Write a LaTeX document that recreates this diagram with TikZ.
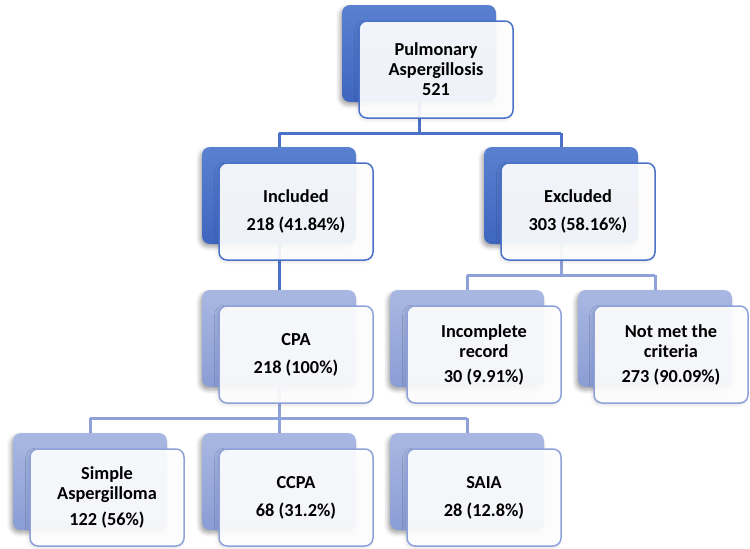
\documentclass[tikz,border=0pt]{standalone}
\usepackage{fontspec}
\setmainfont{Carlito}
\usetikzlibrary{shadows.blur}
\definecolor{dkTop}{HTML}{5A80D0}
\definecolor{dkBot}{HTML}{3F66C0}
\definecolor{ltTop}{HTML}{A9B8E2}
\definecolor{ltBot}{HTML}{8A9DD5}
\definecolor{dkLine}{HTML}{4A72C8}
\definecolor{ltLine}{HTML}{8EA2D9}
\tikzset{
  boxbase/.style={rounded corners=8pt, minimum width=154pt, minimum height=97pt, inner sep=0pt, outer sep=0pt},
  backdark/.style={boxbase, draw=none, top color=dkTop, bottom color=dkBot,
    blur shadow={shadow xshift=-2pt, shadow yshift=-3pt, shadow blur radius=4pt, shadow opacity=35}},
  backlight/.style={boxbase, draw=none, top color=ltTop, bottom color=ltBot,
    blur shadow={shadow xshift=-2pt, shadow yshift=-3pt, shadow blur radius=4pt, shadow opacity=35}},
  frontbox/.style={boxbase, line width=1.5pt, fill=white, fill opacity=0.92, text opacity=1,
    align=center, text=black, font=\bfseries\fontsize{18.3}{20}\selectfont,
    blur shadow={shadow xshift=-1.5pt, shadow yshift=-2pt, shadow blur radius=3pt, shadow opacity=12}},
  frontdark/.style={frontbox, draw=dkLine},
  frontlight/.style={frontbox, draw=ltLine},
  conndark/.style={draw=dkLine, line width=3pt},
  connlight/.style={draw=ltLine, line width=3pt},
}
\begin{document}
\begin{tikzpicture}[x=1pt, y=-1pt]
\useasboundingbox (0,0) rectangle (750,549);
% connector anchors (back box top-left + (77,48.5))
\coordinate (pTop) at (419,53.5);
\coordinate (pInc) at (279,195.5);
\coordinate (pExc) at (561,195.5);
\coordinate (pCpa) at (279,338.5);
\coordinate (pIcr) at (467,338.5);
\coordinate (pNmc) at (655,338.5);
\coordinate (pSim) at (90,481.5);
\coordinate (pCcp) at (279,481.5);
\coordinate (pSai) at (467,481.5);

% connectors (drawn first, behind boxes)
\draw[conndark] (pTop) -- (419,133) coordinate (j1);
\draw[conndark] (pInc |- j1) -- (pExc |- j1);
\draw[conndark] (pInc |- j1) -- (pInc);
\draw[conndark] (pExc |- j1) -- (pExc);
\draw[conndark] (pInc) -- (pCpa);
\draw[connlight] (pExc) -- (561,275) coordinate (j2);
\draw[connlight] (pIcr |- j2) -- (pNmc |- j2);
\draw[connlight] (pIcr |- j2) -- (pIcr);
\draw[connlight] (pNmc |- j2) -- (pNmc);
\draw[connlight] (pCpa) -- (279,418) coordinate (j3);
\draw[connlight] (pSim |- j3) -- (pSai |- j3);
\draw[connlight] (pSim |- j3) -- (pSim);
\draw[connlight] (pCcp |- j3) -- (pCcp);
\draw[connlight] (pSai |- j3) -- (pSai);

% back boxes
\node[backdark]  (topB) at (pTop) {};
\node[backdark]  (incB) at (pInc) {};
\node[backdark]  (excB) at (pExc) {};
\node[backlight] (cpaB) at (pCpa) {};
\node[backlight] (icrB) at (pIcr) {};
\node[backlight] (nmcB) at (pNmc) {};
\node[backlight] (simB) at (pSim) {};
\node[backlight] (ccpB) at (pCcp) {};
\node[backlight] (saiB) at (pSai) {};

% front boxes
\node[frontdark]  (topF) at ([shift={(17,16)}]pTop) {Pulmonary\\Aspergillosis\\521};
\node[frontdark]  (incF) at ([shift={(17,16)}]pInc) {Included\\[8pt]218 (41.84\%)};
\node[frontdark]  (excF) at ([shift={(17,16)}]pExc) {Excluded\\[8pt]303 (58.16\%)};
\node[frontlight] (cpaF) at ([shift={(17,16)}]pCpa) {CPA\\[8pt]218 (100\%)};
\node[frontlight] (icrF) at ([shift={(17,16)}]pIcr) {Incomplete\\record\\[5pt]30 (9.91\%)};
\node[frontlight] (nmcF) at ([shift={(16,16)}]pNmc) {Not met the\\criteria\\[5pt]273 (90.09\%)};
\node[frontlight] (simF) at ([shift={(17,16)}]pSim) {Simple\\Aspergilloma\\[6pt]122 (56\%)};
\node[frontlight] (ccpF) at ([shift={(17,16)}]pCcp) {CCPA\\[8pt]68 (31.2\%)};
\node[frontlight] (saiF) at ([shift={(17,16)}]pSai) {SAIA\\[8pt]28 (12.8\%)};
\end{tikzpicture}
\end{document}
